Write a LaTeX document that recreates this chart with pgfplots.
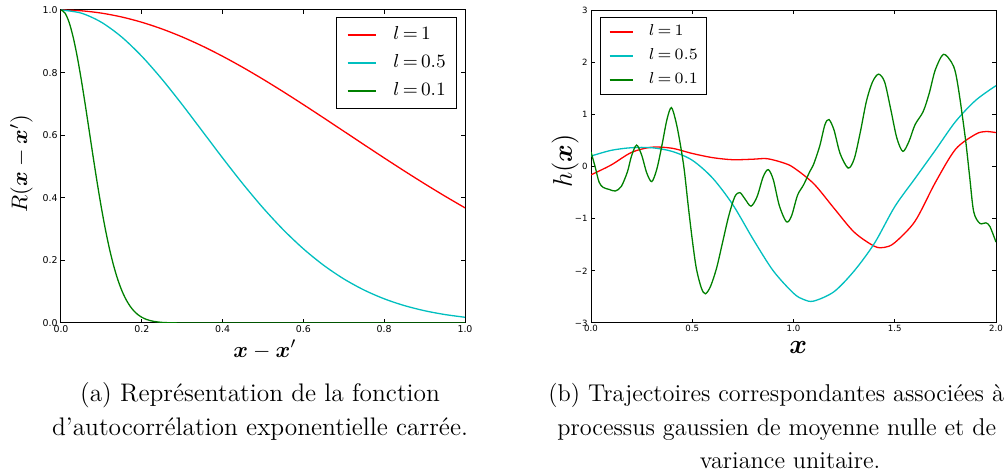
\RequirePackage{fix-cm}
\documentclass[border=0pt]{standalone}
\usepackage{amsmath}
\usepackage{fontspec}
\newfontfamily\dejavu{DejaVu Sans}
\usepackage{pgfplots}
\pgfplotsset{compat=1.18}
\definecolor{mplred}{RGB}{255,0,0}
\definecolor{mplcyan}{RGB}{0,191,191}
\definecolor{mplgreen}{RGB}{0,128,0}

\pgfplotsset{
  mplbase/.style={
    scale only axis,
    anchor=south west,
    tick align=inside,
    major tick length=2pt,
    tick style={black, line width=0.5pt},
    axis line style={black, line width=0.5pt},
    every axis plot/.append style={line width=0.65pt},
    legend cell align=left,
  },
}

\begin{document}
\begin{tikzpicture}[x=1pt,y=1pt]
\useasboundingbox (0,0) rectangle (503.5,237.5);

% ---------------- (a) ----------------
\begin{axis}[mplbase,
  at={(30.5pt,76pt)}, width=202pt, height=156.5pt,
  xmin=0, xmax=1, ymin=0, ymax=1,
  xtick={0,0.2,0.4,0.6,0.8,1}, xticklabels={0.0,0.2,0.4,0.6,0.8,1.0},
  ytick={0,0.2,0.4,0.6,0.8,1}, yticklabels={0.0,0.2,0.4,0.6,0.8,1.0},
  ticklabel style={font=\dejavu\fontsize{4.7}{5}\selectfont},
  xticklabel style={inner sep=1pt},
  yticklabel style={inner sep=1.5pt},
  xlabel={$\boldsymbol{x}-\boldsymbol{x}^{\prime}$},
  ylabel={$R(\boldsymbol{x}-\boldsymbol{x}^{\prime})$},
  label style={font=\fontsize{11.2}{13}\selectfont},
  xlabel style={at={(axis description cs:0.505,-0.109)}, anchor=base},
  ylabel style={at={(axis description cs:-0.084,0.51)}, anchor=base},
  legend image code/.code={\draw[#1, line width=0.75pt] (0pt,0pt) -- (14pt,0pt);},
  legend style={at={(0.980,0.978)}, anchor=north east,
    font=\fontsize{9.4}{11}\selectfont, inner xsep=5.4pt, inner ysep=1.9pt, row sep=0pt,
    nodes={inner sep=0pt, text height=9.35pt, text depth=4.65pt},
    /tikz/every odd column/.append style={column sep=8.5pt}},
]
\addplot[draw=mplred, smooth] coordinates {
(0,1) (0.05,0.9975) (0.1,0.99005) (0.15,0.97775) (0.2,0.96079) (0.25,0.93941)
(0.3,0.91393) (0.35,0.88471) (0.4,0.85214) (0.45,0.81669) (0.5,0.77880)
(0.55,0.73897) (0.6,0.69768) (0.65,0.65541) (0.7,0.61263) (0.75,0.56978)
(0.8,0.52729) (0.85,0.48554) (0.9,0.44486) (0.95,0.40559) (1.0,0.36788)};
\addlegendentry{$l\,{=}\,1$}
\addplot[draw=mplcyan, smooth] coordinates {
(0,1) (0.05,0.99005) (0.1,0.96079) (0.15,0.91393) (0.2,0.85214) (0.25,0.77880)
(0.3,0.69768) (0.35,0.61263) (0.4,0.52729) (0.45,0.44486) (0.5,0.36788)
(0.55,0.29820) (0.6,0.23693) (0.65,0.18452) (0.7,0.14086) (0.75,0.10540)
(0.8,0.07730) (0.85,0.05558) (0.9,0.03916) (0.95,0.02705) (1.0,0.01832)};
\addlegendentry{$l\,{=}\,0.5$}
\addplot[draw=mplgreen, smooth] coordinates {
(0,1) (0.01,0.99005) (0.02,0.96079) (0.03,0.91393) (0.04,0.85214) (0.05,0.77880)
(0.06,0.69768) (0.07,0.61263) (0.08,0.52729) (0.09,0.44486) (0.10,0.36788)
(0.11,0.29820) (0.12,0.23693) (0.13,0.18452) (0.14,0.14086) (0.15,0.10540)
(0.16,0.07730) (0.17,0.05558) (0.18,0.03916) (0.19,0.02705) (0.20,0.01832)
(0.21,0.01216) (0.22,0.00791) (0.23,0.00504) (0.24,0.00315) (0.25,0.00193)
(0.27,0.00068) (0.30,0.00012) (0.35,0) (0.5,0) (0.75,0) (1.0,0)};
\addlegendentry{$l\,{=}\,0.1$}
\end{axis}

% ---------------- (b) ----------------
\begin{axis}[mplbase,
  at={(295.5pt,76pt)}, width=202.5pt, height=156.5pt,
  xmin=0, xmax=2, ymin=-3, ymax=3,
  xtick={0,0.5,1,1.5,2}, xticklabels={0.0,0.5,1.0,1.5,2.0},
  ytick={-3,-2,-1,0,1,2,3}, yticklabels={−3,−2,−1,0,1,2,3},
  ticklabel style={font=\dejavu\fontsize{4.3}{5}\selectfont},
  xticklabel style={inner sep=1pt},
  yticklabel style={inner sep=1.5pt},
  xlabel={$\boldsymbol{x}$},
  ylabel={$h(\boldsymbol{x})$},
  label style={font=\fontsize{13.5}{15}\selectfont},
  xlabel style={at={(axis description cs:0.512,-0.096)}, anchor=base},
  ylabel style={at={(axis description cs:-0.047,0.517)}, anchor=base},
  legend image code/.code={\draw[#1, line width=0.75pt] (0pt,0pt) -- (11.7pt,0pt);},
  legend style={at={(0.022,0.978)}, anchor=north west,
    font=\fontsize{7.9}{9}\selectfont, inner xsep=4.3pt, inner ysep=1.25pt, row sep=0pt,
    nodes={inner sep=0pt, text height=7.98pt, text depth=4.02pt},
    /tikz/every odd column/.append style={column sep=7.5pt}},
]
\addplot[draw=mplred, smooth] coordinates {
(0,-0.16) (0.1,0.03) (0.2,0.27) (0.3,0.37) (0.4,0.35) (0.5,0.25) (0.6,0.17)
(0.7,0.13) (0.8,0.14) (0.87,0.15) (0.95,0.07) (1.0,-0.02) (1.1,-0.33)
(1.2,-0.80) (1.3,-1.26) (1.4,-1.53) (1.45,-1.55) (1.5,-1.46) (1.6,-1.05)
(1.7,-0.31) (1.8,0.33) (1.9,0.62) (1.95,0.67) (2.0,0.65)};
\addlegendentry{$l\,{=}\,1$}
\addplot[draw=mplcyan, smooth] coordinates {
(0,0.2) (0.1,0.31) (0.2,0.36) (0.3,0.36) (0.4,0.29) (0.5,0.12) (0.6,-0.22)
(0.7,-0.73) (0.8,-1.39) (0.9,-2.0) (1.0,-2.43) (1.05,-2.55) (1.1,-2.58)
(1.2,-2.40) (1.3,-2.0) (1.4,-1.47) (1.5,-0.77) (1.6,-0.23) (1.7,0.31)
(1.8,0.86) (1.9,1.27) (2.0,1.55)};
\addlegendentry{$l\,{=}\,0.5$}
\addplot[draw=mplgreen, smooth] coordinates {
(0.00,0.28) (0.02,0.0) (0.04,-0.3) (0.06,-0.40) (0.09,-0.44) (0.12,-0.47)
(0.15,-0.38) (0.18,-0.10) (0.20,0.20) (0.225,0.41) (0.25,0.22) (0.275,-0.12)
(0.30,-0.29) (0.325,-0.05) (0.35,0.40) (0.375,0.90) (0.397,1.13) (0.42,0.85)
(0.44,0.45) (0.46,-0.05) (0.48,-0.75) (0.50,-1.40) (0.52,-1.95) (0.545,-2.33)
(0.565,-2.44) (0.59,-2.30) (0.62,-1.95) (0.65,-1.45) (0.68,-0.95) (0.71,-0.58)
(0.735,-0.50) (0.76,-0.62) (0.79,-0.76) (0.82,-0.58) (0.85,-0.20) (0.875,-0.06)
(0.90,-0.25) (0.93,-0.75) (0.965,-1.06) (0.99,-0.95) (1.02,-0.55) (1.05,-0.35)
(1.08,-0.10) (1.10,0.05) (1.13,0.40) (1.155,0.80) (1.175,0.90) (1.20,0.70)
(1.23,0.25) (1.27,-0.03) (1.30,0.15) (1.33,0.66) (1.36,1.25) (1.39,1.62)
(1.42,1.77) (1.45,1.62) (1.48,1.10) (1.51,0.55) (1.54,0.29) (1.57,0.48)
(1.60,0.80) (1.64,1.05) (1.67,1.40) (1.70,1.85) (1.74,2.15) (1.78,2.00)
(1.80,1.80) (1.82,1.35) (1.85,0.50) (1.87,-0.20) (1.89,-0.87) (1.92,-1.09)
(1.95,-1.08) (1.97,-1.15) (2.00,-1.45)};
\addlegendentry{$l\,{=}\,0.1$}
\end{axis}

% ---------------- captions ----------------
\begin{scope}[every node/.style={inner sep=0pt, font=\fontsize{12.7}{17}\selectfont}]
\node[anchor=base] at (130,36.5) {(a) Représentation de la fonction};
\node[anchor=base] at (130,19.5) {d’autocorrélation exponentielle carrée.};
\end{scope}
\begin{scope}[every node/.style={inner sep=0pt, font=\fontsize{12.15}{17}\selectfont}]
\node[anchor=base west] at (274,36.5) {(b) Trajectoires correspondantes associées à};
\node[anchor=base west] at (278.5,19.5) {processus gaussien de moyenne nulle et de};
\node[anchor=base] at (395,3) {variance unitaire.};
\end{scope}
\end{tikzpicture}
\end{document}
